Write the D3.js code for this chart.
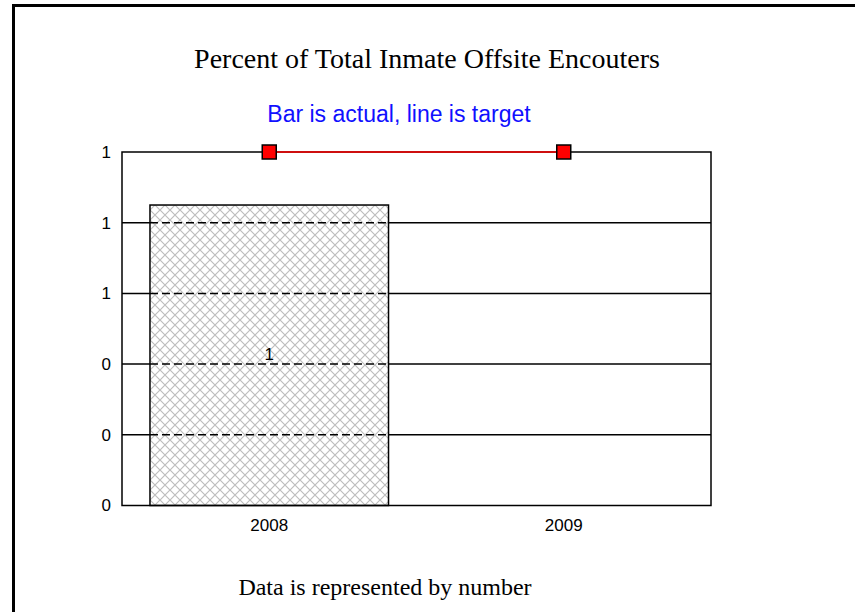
<!DOCTYPE html>
<html>
<head>
<meta charset="utf-8">
<script src="https://cdn.jsdelivr.net/npm/d3@7"></script>
<style>
  html, body { margin: 0; padding: 0; background: #fff; }
</style>
</head>
<body>
<div id="chart"></div>
<script>
// chart values
const categories = ["2008", "2009"];
const actual = [0.85, null];
const target = [1, 1];
const yTicks = [0, 0.2, 0.4, 0.6, 0.8, 1];

const width = 855, height = 612;
const plot = {left: 122, right: 711, top: 152, bottom: 505.5};

let svg = d3.select("#chart").append("svg")
    .attr("width", width)
    .attr("height", height);

// hatch pattern for the bar
let defs = svg.append("defs");
let pat = defs.append("pattern")
    .attr("id", "hatch")
    .attr("patternUnits", "userSpaceOnUse")
    .attr("width", 10)
    .attr("height", 10);
pat.append("path")
    .attr("d", "M0,0L10,10M10,0L0,10")
    .attr("stroke", "#bdbdbd")
    .attr("stroke-width", 1.2);

// outer frame (top and left edges)
svg.append("line")
    .attr("x1", 12).attr("x2", width)
    .attr("y1", 5.5).attr("y2", 5.5)
    .attr("stroke", "#000").attr("stroke-width", 3);
svg.append("line")
    .attr("x1", 13.5).attr("x2", 13.5)
    .attr("y1", 4).attr("y2", height)
    .attr("stroke", "#000").attr("stroke-width", 3);

let x = d3.scaleBand()
    .domain(categories)
    .range([plot.left, plot.right])
    .paddingInner(0.19)
    .paddingOuter(0.095);

let y = d3.scaleLinear()
    .domain([0, 1])
    .range([plot.bottom, plot.top]);

let fmt = d3.format(".0f");

// titles
svg.append("text")
    .attr("x", 427).attr("y", 68)
    .attr("text-anchor", "middle")
    .style("font-family", "'Liberation Serif', 'Times New Roman', serif")
    .style("font-size", "28px")
    .text("Percent of Total Inmate Offsite Encouters");

svg.append("text")
    .attr("x", 399).attr("y", 122)
    .attr("text-anchor", "middle")
    .attr("fill", "#1010ff")
    .style("font-family", "'Liberation Sans', Arial, sans-serif")
    .style("font-size", "23px")
    .text("Bar is actual, line is target");

svg.append("text")
    .attr("x", 385).attr("y", 595)
    .attr("text-anchor", "middle")
    .style("font-family", "'Liberation Serif', 'Times New Roman', serif")
    .style("font-size", "24px")
    .text("Data is represented by number");

// gridlines
let g = svg.append("g");
g.selectAll(".grid")
    .data(yTicks.slice(1, -1))
    .enter().append("line")
    .attr("class", "grid")
    .attr("x1", plot.left).attr("x2", plot.right)
    .attr("y1", d => y(d)).attr("y2", d => y(d))
    .attr("stroke", "#000").attr("stroke-width", 1.5);

// bars
let bars = categories.map((c, i) => ({cat: c, v: actual[i]})).filter(d => d.v != null);

g.selectAll(".barbg")
    .data(bars)
    .enter().append("rect")
    .attr("x", d => x(d.cat))
    .attr("y", d => y(d.v))
    .attr("width", x.bandwidth())
    .attr("height", d => y(0) - y(d.v))
    .attr("fill", "#fff");

g.selectAll(".bar")
    .data(bars)
    .enter().append("rect")
    .attr("class", "bar")
    .attr("x", d => x(d.cat))
    .attr("y", d => y(d.v))
    .attr("width", x.bandwidth())
    .attr("height", d => y(0) - y(d.v))
    .attr("fill", "url(#hatch)");

// dashed gridlines seen through the bar
bars.forEach(b => {
  g.selectAll(null)
    .data(yTicks.slice(1, -1).filter(t => t < b.v))
    .enter().append("line")
    .attr("x1", x(b.cat)).attr("x2", x(b.cat) + x.bandwidth())
    .attr("y1", d => y(d)).attr("y2", d => y(d))
    .attr("stroke", "#000").attr("stroke-width", 1.5)
    .attr("stroke-dasharray", "8,4");
});

g.selectAll(".barline")
    .data(bars)
    .enter().append("rect")
    .attr("x", d => x(d.cat))
    .attr("y", d => y(d.v))
    .attr("width", x.bandwidth())
    .attr("height", d => y(0) - y(d.v))
    .attr("fill", "none")
    .attr("stroke", "#000")
    .attr("stroke-width", 1.5);

// bar value labels
g.selectAll(".val")
    .data(bars)
    .enter().append("text")
    .attr("x", d => x(d.cat) + x.bandwidth() / 2)
    .attr("y", d => (y(d.v) + y(0)) / 2 + 5)
    .attr("text-anchor", "middle")
    .style("font-family", "'Liberation Sans', Arial, sans-serif")
    .style("font-size", "17px")
    .text(d => fmt(d.v));

// plot frame
g.append("rect")
    .attr("x", plot.left).attr("y", plot.top)
    .attr("width", plot.right - plot.left)
    .attr("height", plot.bottom - plot.top)
    .attr("fill", "none")
    .attr("stroke", "#000")
    .attr("stroke-width", 1.5);

// axes
let yAxis = d3.axisLeft(y).tickValues(yTicks).tickFormat(fmt).tickSize(0).tickPadding(11);
let yg = svg.append("g").attr("transform", `translate(${plot.left},0)`).call(yAxis);
yg.select(".domain").remove();
yg.selectAll("text")
    .attr("fill", "#000")
    .style("font-family", "'Liberation Sans', Arial, sans-serif")
    .style("font-size", "17px");

let xAxis = d3.axisBottom(x).tickSize(0).tickPadding(13);
let xg = svg.append("g").attr("transform", `translate(0,${plot.bottom})`).call(xAxis);
xg.select(".domain").remove();
xg.selectAll("text")
    .attr("fill", "#000")
    .style("font-family", "'Liberation Sans', Arial, sans-serif")
    .style("font-size", "17px");

// target line
let line = d3.line()
    .x((d, i) => x(categories[i]) + x.bandwidth() / 2)
    .y(d => y(d));

svg.append("path")
    .datum(target)
    .attr("d", line)
    .attr("fill", "none")
    .attr("stroke", "#ff0000")
    .attr("stroke-width", 1.5);

svg.selectAll(".marker")
    .data(target)
    .enter().append("rect")
    .attr("x", (d, i) => x(categories[i]) + x.bandwidth() / 2 - 7)
    .attr("y", d => y(d) - 7)
    .attr("width", 14)
    .attr("height", 14)
    .attr("fill", "#ff0000")
    .attr("stroke", "#000")
    .attr("stroke-width", 1.5);
</script>
</body>
</html>
